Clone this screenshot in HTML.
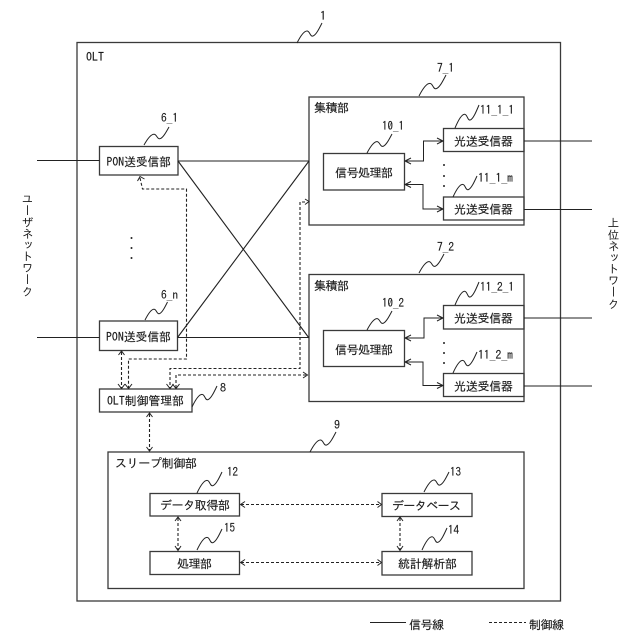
<!DOCTYPE html>
<html>
<head>
<meta charset="utf-8">
<style>
html,body{margin:0;padding:0;background:#fff;width:640px;height:640px;overflow:hidden}
svg{position:absolute;left:0;top:0}
.b{fill:none;stroke:#3a3a3a;stroke-width:1.3}
.s{fill:none;stroke:#222;stroke-width:1.1}
.d{fill:none;stroke:#222;stroke-width:1.1;stroke-dasharray:3 2}
.a{fill:none;stroke:#222;stroke-width:1}
.q{fill:none;stroke:#222;stroke-width:1;vector-effect:non-scaling-stroke}
text{font-family:"IPAGothic","Noto Sans CJK JP",sans-serif;font-size:12px;fill:#1a1a1a;stroke:#1a1a1a;stroke-width:.15}
.n{font-size:12px}
.v{position:absolute;writing-mode:vertical-rl;font-family:"IPAGothic","Noto Sans CJK JP",sans-serif;font-size:11.5px;line-height:12px;color:#1a1a1a;white-space:nowrap}
</style>
</head>
<body>
<svg width="640" height="640" viewBox="0 0 640 640" xmlns="http://www.w3.org/2000/svg">
<defs>
<path id="q" class="q" d="M0 0C3 -6 7 -12 10 -12C13 -12 13 -6 16 -7C19 -8 22 -14 25 -20"/>
</defs>

<!-- boxes -->
<rect class="b" x="77" y="42.5" width="483.5" height="558.5"/>
<rect class="b" x="99.5" y="146.5" width="78.5" height="28.5"/>
<rect class="b" x="99.5" y="321" width="78" height="29.5"/>
<rect class="b" x="99.5" y="389" width="92.5" height="23"/>
<rect class="b" x="108" y="452" width="416" height="136.5"/>
<rect class="b" x="150" y="493.5" width="89.5" height="22.5"/>
<rect class="b" x="150" y="551.5" width="89.5" height="23"/>
<rect class="b" x="382" y="493.5" width="90" height="23"/>
<rect class="b" x="382" y="551.5" width="90" height="23.5"/>
<rect class="b" x="309" y="97" width="215" height="128"/>
<rect class="b" x="309" y="274.5" width="215" height="127"/>
<rect class="b" x="323.5" y="153.5" width="81" height="36.5"/>
<rect class="b" x="323.5" y="330.5" width="81" height="36"/>
<rect class="b" x="443.5" y="128.5" width="80.5" height="23"/>
<rect class="b" x="443.5" y="197" width="80.5" height="23"/>
<rect class="b" x="443.5" y="305.5" width="80.5" height="23.5"/>
<rect class="b" x="443.5" y="373.5" width="80.5" height="23"/>

<!-- signal lines -->
<path class="s" d="M37 160.5H99.5M37 337.5H99.5M178 161H309M177.5 337.5H309M178 161L309 338M177.5 337.5L309 161"/>
<path class="s" d="M524 141H592M524 209.500H592M524 318H592M524 386H592"/>
<path class="a" d="M405 161H423.500V141H443M405 184.500H423V209H443M405 338H424V318H443M405 362H423V385.500H443"/>
<path class="a" d="M411 158L405 161L411 164M411 181.500L405 184.500L411 187.500M411 335L405 338L411 341M411 359L405 362L411 365M437 138L443 141L437 144M437 206L443 209L437 212M437 315L443 318L437 321M437 382.500L443 385.500L437 388.500"/>

<!-- control lines -->
<path class="d" d="M140 178L142.500 189H186.500V359H128.500V388"/>
<path class="d" d="M121.500 352V388"/>
<path class="d" d="M305 202H300V368.500H170V388"/>
<path class="d" d="M176 388V375H308"/>
<path class="d" d="M149.500 414V451"/>
<path class="d" d="M178 518V550"/>
<path class="d" d="M400 518V550"/>
<path class="d" d="M241 504.500H381M241 562.500H381"/>
<path class="a" d="M137.500 181L140 176.500L144.500 179M305 199L309 201.500L305 204.500M118.500 355L121.500 351L124.500 355M118 384L121.500 388.500L125 384M125 384L128.500 388.500L132 384M166.500 384L170 388.500L173.500 384M172.500 384L176 388.500L179.500 384M303 372L307.500 375L303 378M146.500 417L149.500 413L152.500 417M146.500 447L149.500 451L152.500 447M175 521L178 517L181 521M175 546L178 550.500L181 546M397 521L400 517L403 521M397 546L400 550.500L403 546M245 501.500L240.500 504.500L245 507.500M377.500 501.500L381.500 504.500L377.500 507.500M245 559.500L240.500 562.500L245 565.500M377.500 559.500L381.500 562.500L377.500 565.500"/>

<!-- legend -->
<path class="s" d="M370 622.500H406"/>
<path class="d" d="M489 622.500H526"/>

<!-- dots -->
<g fill="#222">
<circle cx="131.500" cy="238" r="1"/><circle cx="131.500" cy="248" r="1"/><circle cx="131.500" cy="258" r="1"/>
<circle cx="444" cy="165" r="1"/><circle cx="444" cy="176" r="1"/><circle cx="444" cy="186" r="1"/>
<circle cx="444" cy="343" r="1"/><circle cx="444" cy="353" r="1"/><circle cx="444" cy="363" r="1"/>
</g>

<!-- squiggles -->
<use href="#q" transform="translate(297 43)"/>
<use href="#q" transform="translate(144 145) scale(1 .9)"/>
<use href="#q" transform="translate(145 320) scale(.9 .9)"/>
<use href="#q" transform="translate(419 96) scale(1.08 1.05)"/>
<use href="#q" transform="translate(419 273) scale(1 .95)"/>
<use href="#q" transform="translate(367 153) scale(1 .95)"/>
<use href="#q" transform="translate(367 330) scale(1 .95)"/>
<use href="#q" transform="translate(455 128) scale(.96 1.15)"/>
<use href="#q" transform="translate(453 197) scale(.96 1.05)"/>
<use href="#q" transform="translate(455 305) scale(.96 1.15)"/>
<use href="#q" transform="translate(453 373) scale(.96 1.05)"/>
<use href="#q" transform="translate(192 407) scale(1 1.05)"/>
<use href="#q" transform="translate(310 452) scale(1.04 1)"/>
<use href="#q" transform="translate(197 493) scale(1 1.05)"/>
<use href="#q" transform="translate(197 550) scale(1 1.05)"/>
<use href="#q" transform="translate(424 492) scale(1 1)"/>
<use href="#q" transform="translate(422 550) scale(1 1.1)"/>

<!-- box labels -->
<text x="86" y="61" textLength="18" lengthAdjust="spacingAndGlyphs" class="n">OLT</text>
<text x="106.500" y="166" textLength="64.500" lengthAdjust="spacingAndGlyphs">PON送受信部</text>
<text x="106" y="341" textLength="65" lengthAdjust="spacingAndGlyphs">PON送受信部</text>
<text x="107" y="405" textLength="77" lengthAdjust="spacingAndGlyphs">OLT制御管理部</text>
<text x="115" y="467.500" textLength="82" lengthAdjust="spacing">スリープ制御部</text>
<text x="160" y="509.500" textLength="70" lengthAdjust="spacing">データ取得部</text>
<text x="177" y="568" textLength="35" lengthAdjust="spacing">処理部</text>
<text x="392" y="510" textLength="69" lengthAdjust="spacing">データベース</text>
<text x="398" y="568" textLength="59" lengthAdjust="spacing">統計解析部</text>
<text x="314" y="112" textLength="35" lengthAdjust="spacing">集積部</text>
<text x="314" y="290" textLength="35" lengthAdjust="spacing">集積部</text>
<text x="335" y="177" textLength="58" lengthAdjust="spacing">信号処理部</text>
<text x="335" y="354" textLength="58" lengthAdjust="spacing">信号処理部</text>
<text x="454" y="145.500" textLength="59" lengthAdjust="spacing">光送受信器</text>
<text x="454" y="213.500" textLength="59" lengthAdjust="spacing">光送受信器</text>
<text x="454" y="322.500" textLength="59" lengthAdjust="spacing">光送受信器</text>
<text x="454" y="390.500" textLength="59" lengthAdjust="spacing">光送受信器</text>
<text x="409" y="629" textLength="35" lengthAdjust="spacing">信号線</text>
<text x="529" y="629" textLength="35" lengthAdjust="spacing">制御線</text>

<!-- reference labels -->
<text class="n" x="320" y="20">1</text>
<text class="n" x="161" y="122" textLength="17" lengthAdjust="spacingAndGlyphs">6_1</text>
<text class="n" x="161" y="299" textLength="17" lengthAdjust="spacingAndGlyphs">6_n</text>
<text class="n" x="437" y="72" textLength="17" lengthAdjust="spacingAndGlyphs">7_1</text>
<text class="n" x="437" y="251" textLength="17" lengthAdjust="spacingAndGlyphs">7_2</text>
<text class="n" x="382" y="130" textLength="22" lengthAdjust="spacingAndGlyphs">10_1</text>
<text class="n" x="382" y="307" textLength="22" lengthAdjust="spacingAndGlyphs">10_2</text>
<text class="n" x="480" y="114" textLength="34" lengthAdjust="spacingAndGlyphs">11_1_1</text>
<text class="n" x="478" y="182" textLength="35" lengthAdjust="spacingAndGlyphs">11_1_m</text>
<text class="n" x="480" y="291" textLength="34" lengthAdjust="spacingAndGlyphs">11_2_1</text>
<text class="n" x="478" y="359" textLength="35" lengthAdjust="spacingAndGlyphs">11_2_m</text>
<text class="n" x="220" y="392">8</text>
<text class="n" x="334" y="429">9</text>
<text class="n" x="227" y="476" textLength="11" lengthAdjust="spacingAndGlyphs">12</text>
<text class="n" x="224" y="532" textLength="11" lengthAdjust="spacingAndGlyphs">15</text>
<text class="n" x="450" y="476" textLength="11" lengthAdjust="spacingAndGlyphs">13</text>
<text class="n" x="448" y="534" textLength="11" lengthAdjust="spacingAndGlyphs">14</text>
</svg>
<div class="v" style="left:21px;top:193px">ユーザネットワーク</div>
<div class="v" style="left:607px;top:217px">上位ネットワーク</div>
</body>
</html>
